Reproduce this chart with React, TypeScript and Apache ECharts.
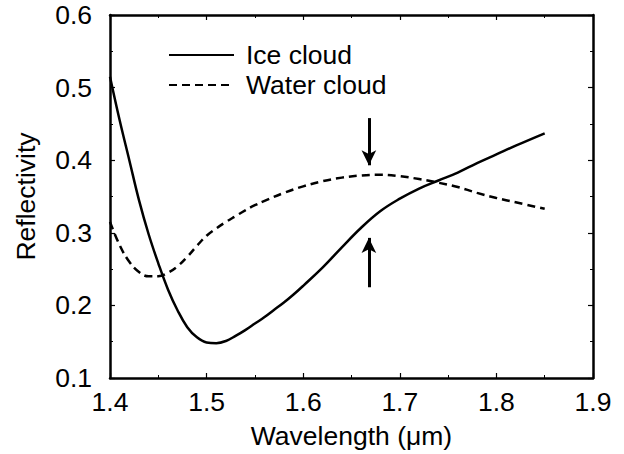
import React, { useEffect, useRef } from "react";
import * as echarts from "echarts";

const iceX = [1.40, 1.41, 1.42, 1.43, 1.44, 1.45, 1.46, 1.47, 1.48, 1.49, 1.50, 1.51, 1.52, 1.53, 1.54, 1.55, 1.56, 1.57, 1.58, 1.59, 1.60, 1.62, 1.64, 1.66, 1.68, 1.70, 1.72, 1.74, 1.76, 1.78, 1.80, 1.82, 1.85];
const iceY = [0.515, 0.455, 0.400, 0.345, 0.298, 0.258, 0.222, 0.193, 0.170, 0.156, 0.149, 0.148, 0.151, 0.158, 0.166, 0.175, 0.184, 0.194, 0.204, 0.215, 0.227, 0.252, 0.280, 0.307, 0.330, 0.347, 0.361, 0.372, 0.383, 0.396, 0.408, 0.420, 0.437];

const waterX = [1.40, 1.41, 1.42, 1.43, 1.44, 1.45, 1.46, 1.47, 1.48, 1.49, 1.50, 1.51, 1.52, 1.53, 1.54, 1.55, 1.56, 1.58, 1.60, 1.62, 1.64, 1.66, 1.68, 1.70, 1.72, 1.74, 1.76, 1.78, 1.80, 1.82, 1.85];
const waterY = [0.315, 0.283, 0.260, 0.246, 0.240, 0.240, 0.245, 0.254, 0.267, 0.282, 0.296, 0.306, 0.315, 0.323, 0.331, 0.338, 0.344, 0.355, 0.364, 0.371, 0.376, 0.379, 0.380, 0.378, 0.374, 0.369, 0.363, 0.355, 0.348, 0.342, 0.333];

// arrows: [x, yStart, yEnd]
const arrows = [
  [1.668, 0.458, 0.393],
  [1.668, 0.225, 0.293],
];

const seriesNames = ["Ice cloud", "Water cloud"];
const FONT = "'Liberation Sans', Arial, Helvetica, sans-serif";
const FS = 26.5;

export default function App() {
  const ref = useRef<HTMLDivElement>(null);
  useEffect(() => {
    if (!ref.current) return;
    const chart = echarts.init(ref.current, null, { renderer: "svg" });
    const axisCommon = {
      min: 1.4,
      max: 1.9,
      interval: 0.1,
    };
    const tickStyle = {
      axisLine: { show: true, lineStyle: { color: "#000", width: 2.5 } },
      axisTick: { show: true, inside: true, length: 5, lineStyle: { color: "#000", width: 1.2 } },
      minorTick: { show: true, splitNumber: 2, length: 3, lineStyle: { color: "#000", width: 1 } },
      splitLine: { show: false },
    };
    chart.setOption({
      animation: false,
      backgroundColor: "#fff",
      grid: { left: 110, right: 31, top: 15, bottom: 76 },
      legend: {
        left: 163,
        top: 35,
        orient: "vertical",
        itemWidth: 65,
        itemHeight: 20,
        itemGap: 0,
        itemStyle: { opacity: 0 },
        textStyle: { fontSize: FS, lineHeight: 30, color: "#000", fontFamily: FONT, padding: [0, 0, 0, 7] },
        data: seriesNames,
      },
      xAxis: [
        {
          type: "value",
          ...axisCommon,
          ...tickStyle,
          name: "Wavelength (\u03bcm)",
          nameLocation: "middle",
          nameGap: 44,
          nameTextStyle: { fontSize: FS, color: "#000", fontFamily: FONT },
          axisLabel: {
            color: "#000",
            fontSize: FS,
            fontFamily: FONT,
            margin: 10,
            formatter: (v: number) => v.toFixed(1),
          },
        },
        {
          type: "value",
          position: "top",
          ...axisCommon,
          ...tickStyle,
          axisLabel: { show: false },
        },
      ],
      yAxis: [
        {
          type: "value",
          min: 0.1,
          max: 0.6,
          interval: 0.1,
          ...tickStyle,
          name: "Reflectivity",
          nameLocation: "middle",
          nameGap: 71,
          nameTextStyle: { fontSize: FS, color: "#000", fontFamily: FONT },
          axisLabel: {
            color: "#000",
            fontSize: FS,
            fontFamily: FONT,
            margin: 18,
            formatter: (v: number) => v.toFixed(1),
          },
        },
        {
          type: "value",
          position: "right",
          min: 0.1,
          max: 0.6,
          interval: 0.1,
          ...tickStyle,
          axisLabel: { show: false },
        },
      ],
      series: [
        {
          name: seriesNames[0],
          type: "line",
          smooth: 0.4,
          symbol: "none",
          data: iceX.map((x, i) => [x, iceY[i]]),
          lineStyle: { color: "#000", width: 2.5, type: "solid" },
          itemStyle: { color: "#000" },
          markLine: {
            silent: true,
            symbol: ["none", "arrow"],
            symbolSize: [11, 15],
            label: { show: false },
            lineStyle: { color: "#000", width: 3, type: "solid" },
            data: arrows.map(([x, y1, y2]) => [
              { coord: [x, y1] },
              { coord: [x, y2] },
            ]),
          },
        },
        {
          name: seriesNames[1],
          type: "line",
          smooth: 0.4,
          symbol: "none",
          data: waterX.map((x, i) => [x, waterY[i]]),
          lineStyle: { color: "#000", width: 2.5, type: [8, 5] },
          itemStyle: { color: "#000" },
        },
      ],
    });
    return () => chart.dispose();
  }, []);
  return <div ref={ref} style={{ width: 624, height: 454, position: "absolute", left: 0, top: 0 }} />;
}
